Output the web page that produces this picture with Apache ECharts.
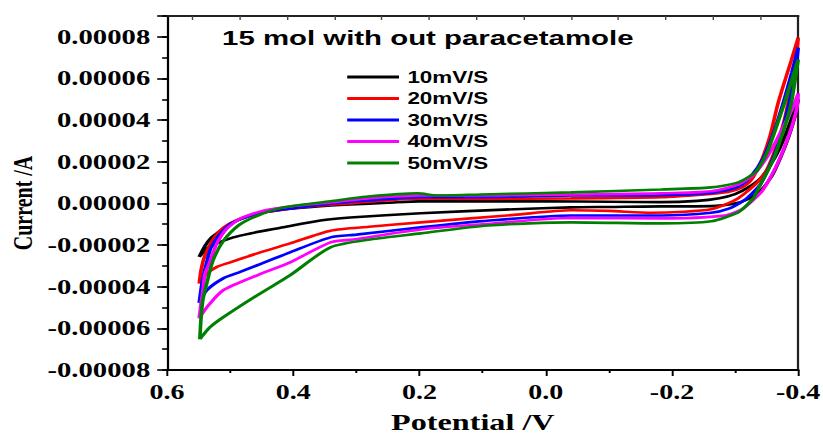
<!DOCTYPE html>
<html>
<head>
<meta charset="utf-8">
<script src="https://cdn.jsdelivr.net/npm/echarts@6/dist/echarts.min.js"></script>
<style>
  html, body { margin: 0; padding: 0; background: #fff; overflow: hidden; width: 823px; height: 434px; }
  /* the figure is laid out narrow and stretched horizontally, like the original print */
  #chart { position: absolute; left: 0; top: 0; width: 587.857px; height: 434px;
           transform: scaleX(1.4); transform-origin: 0 0; }
</style>
</head>
<body>
<div id="chart"></div>
<script>
// Cyclic voltammograms, 15 mol electrolyte without paracetamol.
// Each loop: [potential (V), current (x1e-5 A)], forward branch then return branch.
const CURRENT_UNIT = 1e-5;

const scanRates = ['10mV/S', '20mV/S', '30mV/S', '40mV/S', '50mV/S'];

const cv10 = [
  [0.549, -2.57], [0.540, -2.05], [0.530, -1.65], [0.521, -1.44], [0.508, -1.15], [0.495, -0.91],
  [0.468, -0.58], [0.440, -0.40], [0.416, -0.29], [0.357, -0.14], [0.310, -0.05], [0.250, 0.03],
  [0.200, 0.10], [0.100, 0.10], [0.000, 0.10], [-0.100, 0.08], [-0.183, 0.06], [-0.240, 0.12],
  [-0.275, 0.25], [-0.300, 0.45], [-0.320, 0.75], [-0.340, 1.20], [-0.355, 1.80], [-0.370, 2.60],
  [-0.385, 3.70], [-0.400, 5.00],
  [-0.395, 4.20], [-0.385, 3.20], [-0.372, 2.20], [-0.358, 1.30], [-0.340, 0.60], [-0.320, 0.20],
  [-0.298, -0.02], [-0.270, -0.12], [-0.220, -0.14], [-0.183, -0.14], [-0.100, -0.17], [-0.040, -0.19],
  [0.050, -0.28], [0.198, -0.47], [0.310, -0.68], [0.357, -0.82], [0.416, -1.15], [0.468, -1.44],
  [0.495, -1.63], [0.521, -1.92], [0.537, -2.18], [0.549, -2.57]
];

const cv20 = [
  [0.549, -3.85], [0.546, -3.20], [0.541, -2.59], [0.532, -2.00], [0.525, -1.63], [0.510, -1.15],
  [0.483, -0.72], [0.456, -0.48], [0.403, -0.24], [0.357, -0.10], [0.310, 0.00], [0.198, 0.24],
  [0.100, 0.22], [-0.040, 0.24], [-0.183, 0.30], [-0.246, 0.42], [-0.289, 0.55], [-0.310, 0.75],
  [-0.325, 1.10], [-0.341, 2.00], [-0.355, 3.20], [-0.368, 4.80], [-0.380, 6.00], [-0.389, 6.86],
  [-0.400, 7.96],
  [-0.395, 6.50], [-0.388, 5.40], [-0.378, 4.00], [-0.365, 2.70], [-0.350, 1.60], [-0.335, 1.00],
  [-0.321, 0.62], [-0.305, 0.25], [-0.289, 0.00], [-0.262, -0.28], [-0.219, -0.40], [-0.167, -0.45],
  [-0.100, -0.36], [-0.040, -0.33], [0.050, -0.55], [0.198, -0.91], [0.280, -1.12], [0.341, -1.31],
  [0.405, -1.92], [0.457, -2.40], [0.500, -2.83], [0.521, -3.05], [0.537, -3.38], [0.549, -3.85]
];

const cv30 = [
  [0.549, -4.78], [0.546, -4.10], [0.543, -3.55], [0.536, -2.70], [0.530, -2.11], [0.514, -1.39],
  [0.495, -0.91], [0.456, -0.48], [0.403, -0.24], [0.341, -0.02], [0.278, 0.15], [0.198, 0.30],
  [0.100, 0.30], [-0.040, 0.38], [-0.183, 0.40], [-0.262, 0.50], [-0.305, 0.80], [-0.325, 1.30],
  [-0.345, 2.20], [-0.360, 3.30], [-0.375, 4.70], [-0.390, 6.30], [-0.400, 7.48],
  [-0.396, 6.40], [-0.390, 5.40], [-0.380, 4.10], [-0.368, 2.80], [-0.355, 1.80], [-0.340, 0.90],
  [-0.326, 0.45], [-0.314, 0.14], [-0.290, -0.25], [-0.262, -0.45], [-0.183, -0.58], [-0.040, -0.58],
  [0.100, -0.85], [0.198, -1.15], [0.300, -1.50], [0.341, -1.63], [0.405, -2.35], [0.457, -2.97],
  [0.485, -3.30], [0.511, -3.60], [0.537, -4.17], [0.549, -4.78]
];

const cv40 = [
  [0.549, -5.52], [0.546, -4.80], [0.543, -4.17], [0.540, -3.40], [0.533, -2.88], [0.521, -1.92],
  [0.505, -1.20], [0.483, -0.72], [0.446, -0.34], [0.392, -0.10], [0.341, 0.05], [0.278, 0.25],
  [0.198, 0.38], [0.100, 0.38], [-0.040, 0.43], [-0.183, 0.48], [-0.262, 0.58], [-0.305, 0.91],
  [-0.330, 1.40], [-0.350, 2.20], [-0.365, 3.00], [-0.380, 3.90], [-0.390, 4.50], [-0.400, 5.28],
  [-0.398, 4.60], [-0.392, 3.90], [-0.382, 3.00], [-0.370, 2.10], [-0.357, 1.30], [-0.343, 0.60],
  [-0.330, 0.20], [-0.310, -0.30], [-0.280, -0.60], [-0.183, -0.72], [-0.040, -0.70], [0.100, -1.00],
  [0.198, -1.25], [0.305, -1.73], [0.341, -1.87], [0.405, -2.83], [0.457, -3.45], [0.511, -4.17],
  [0.537, -4.99], [0.549, -5.52]
];

const cv50 = [
  [0.548, -6.52], [0.546, -5.47], [0.543, -4.60], [0.537, -3.84], [0.527, -2.73], [0.510, -1.77],
  [0.487, -1.06], [0.456, -0.58], [0.414, -0.19], [0.341, 0.10], [0.278, 0.34], [0.203, 0.48],
  [0.171, 0.38], [0.103, 0.43], [-0.040, 0.53], [-0.183, 0.67], [-0.262, 0.77], [-0.305, 1.01],
  [-0.330, 1.44], [-0.337, 1.68], [-0.352, 2.54], [-0.378, 4.80], [-0.400, 6.90],
  [-0.396, 6.10], [-0.389, 4.80], [-0.380, 3.80], [-0.373, 3.17], [-0.362, 2.20], [-0.352, 1.58],
  [-0.340, 0.90], [-0.330, 0.29], [-0.318, -0.10], [-0.305, -0.43], [-0.262, -0.86], [-0.183, -0.96],
  [-0.040, -0.91], [0.092, -1.06], [0.198, -1.44], [0.278, -1.73], [0.341, -2.11], [0.405, -3.45],
  [0.457, -4.41], [0.511, -5.47], [0.532, -5.95], [0.548, -6.52]
];

const loops = [cv10, cv20, cv30, cv40, cv50];
const lineColors = ['#000000', '#ff0000', '#0000ff', '#ff00ff', '#008000'];

// tick marks along the upper frame edge
const topTicks = [0.56, 0.485, 0.41, 0.335, 0.26, 0.185, 0.11, 0.035, -0.04, -0.115, -0.19, -0.265, -0.34];

const serif = 'Liberation Serif';
const sans = 'Liberation Sans';

const chart = echarts.init(document.getElementById('chart'), null, { renderer: 'svg' });

const fmtPotential = v => (Math.abs(v) < 1e-9 ? '0.0' : v.toFixed(1));
const fmtCurrent = v => (v > 8.5e-5 ? '' : (Math.abs(v) < 1e-12 ? '0.00000' : v.toFixed(5)));

chart.setOption({
  animation: false,
  backgroundColor: '#ffffff',
  title: {
    text: '15 mol with out paracetamole',
    left: 158.6,
    top: 27,
    padding: 0,
    textStyle: { fontFamily: sans, fontWeight: 'bold', fontSize: 21, color: '#000' }
  },
  legend: {
    orient: 'vertical',
    left: 248,
    top: 69,
    padding: 0,
    icon: 'rect',
    itemWidth: 37,
    itemHeight: 3,
    itemGap: 5.5,
    data: scanRates,
    textStyle: { fontFamily: sans, fontWeight: 'bold', fontSize: 16, color: '#000', padding: [0, 0, 0, 1] }
  },
  grid: { left: 119.3, right: 17.86, top: 16, bottom: 64, containLabel: false, outerBoundsMode: 'none' },
  xAxis: [
    {
      type: 'value', position: 'bottom', inverse: true,
      min: -0.4, max: 0.6, interval: 0.2,
      axisLine: { onZero: false, lineStyle: { color: '#000', width: 2 } },
      axisTick: { inside: false, length: 6, lineStyle: { color: '#000', width: 1.4 } },
      minorTick: { show: true, splitNumber: 2, length: 3, lineStyle: { color: '#000', width: 1.4 } },
      splitLine: { show: false },
      axisLabel: { margin: 12, fontFamily: serif, fontWeight: 'bold', fontSize: 20, color: '#000', formatter: fmtPotential },
      name: 'Potential /V', nameLocation: 'middle', nameGap: 41, nameMoveOverlap: false,
      nameTextStyle: { fontFamily: serif, fontWeight: 'bold', fontSize: 23, color: '#000', padding: [0, 14, 0, 0] }
    },
    {
      type: 'value', position: 'top', inverse: true,
      min: -0.4, max: 0.6,
      axisLine: { show: true, onZero: false, lineStyle: { color: '#222', width: 2 } },
      axisTick: { show: true, inside: true, length: 4, customValues: topTicks, lineStyle: { color: '#444', width: 1 } },
      axisLabel: { show: false },
      splitLine: { show: false }
    }
  ],
  yAxis: [
    {
      type: 'value', position: 'left',
      min: -8e-5, max: 9e-5, interval: 2e-5,
      axisLine: { show: true, onZero: false, lineStyle: { color: '#000', width: 1.6 } },
      axisTick: { show: true, inside: false, length: 7, lineStyle: { color: '#000', width: 1.6 } },
      splitLine: { show: false },
      axisLabel: { margin: 12, fontFamily: serif, fontWeight: 'bold', fontSize: 20.5, color: '#000', formatter: fmtCurrent },
      name: 'Current /A', nameLocation: 'middle', nameGap: 93.5, nameRotate: 90, nameMoveOverlap: false,
      nameTextStyle: { fontFamily: serif, fontWeight: 'bold', fontSize: 20, color: '#000', padding: [0, 20, 0, 0] }
    },
    {
      type: 'value', position: 'left',
      min: -8e-5, max: 9e-5, interval: 1e-5,
      axisLine: { show: false, onZero: false },
      axisTick: { show: true, inside: false, length: 3.5, lineStyle: { color: '#000', width: 1.6 } },
      axisLabel: { show: false },
      splitLine: { show: false }
    },
    {
      type: 'value', position: 'right',
      min: -8e-5, max: 9e-5,
      axisLine: { show: true, onZero: false, lineStyle: { color: '#222', width: 1.6 } },
      axisTick: { show: false },
      axisLabel: { show: false },
      splitLine: { show: false }
    }
  ],
  series: loops.map((loop, i) => ({
    name: scanRates[i],
    type: 'line',
    xAxisIndex: 0,
    yAxisIndex: 0,
    data: loop.map(([v, c]) => [v, c * CURRENT_UNIT]),
    symbol: 'none',
    smooth: 0.25,
    z: 2 + i,
    lineStyle: { width: 2.6, color: lineColors[i] },
    itemStyle: { color: lineColors[i] }
  }))
});
</script>
</body>
</html>
